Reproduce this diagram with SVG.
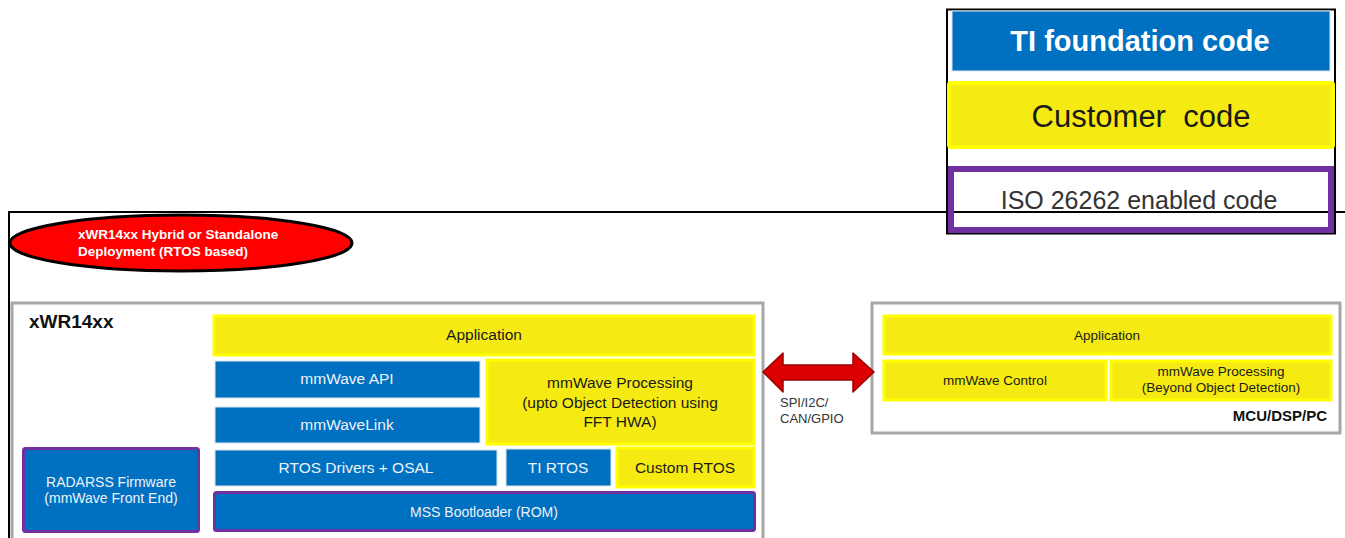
<svg xmlns="http://www.w3.org/2000/svg" width="1345" height="538" viewBox="0 0 1345 538">
<style>
text{font-family:"Liberation Sans",Arial,sans-serif;text-anchor:middle}
.blue{fill:#0070C0;stroke:#DCE6F2;stroke-width:1}
.yel{fill:#F6EA13;stroke:#FFFF00;stroke-width:3}
.pur{stroke:#7030A0;stroke-width:3}
.gray{fill:#FFFFFF;stroke:#A6A6A6;stroke-width:3}
.wt{fill:#EEF3FA;font-size:15.5px}
.bt{fill:#1A1A1A;font-size:15.5px}
.sm{font-size:13.5px}
</style>
<rect width="1345" height="538" fill="#FFFFFF"/>
<g id="legend">
<rect x="947" y="9.5" width="388" height="224" fill="none" stroke="#000" stroke-width="2"/>
<rect x="952" y="11" width="378" height="60" fill="#0070C0" stroke="#DCE6F2" stroke-width="1"/>
<text x="1140" y="51" style="font-size:29px;font-weight:bold;fill:#FFFFFF">TI foundation code</text>
<rect x="949" y="83" width="384" height="64" rx="2" fill="#F6EA13" stroke="#FFFF00" stroke-width="4"/>
<text x="1141" y="127" style="font-size:31px;fill:#1A1A1A;white-space:pre" xml:space="preserve">Customer  code</text>
<text x="1139" y="209" style="font-size:25px;fill:#333">ISO 26262 enabled code</text>
</g>
<g id="frame">
<path d="M9,538 V212 H1345" fill="none" stroke="#000" stroke-width="2"/>
</g>
<g id="legend-iso">
<rect x="951" y="169" width="380" height="61" fill="none" stroke="#7030A0" stroke-width="6"/>
</g>
<g id="deployment">
<ellipse cx="181" cy="243" rx="171" ry="28" fill="#FF0000" stroke="#000" stroke-width="3"/>
<text x="78" y="239" style="text-anchor:start;font-size:13.5px;font-weight:bold;fill:#FFFFFF">xWR14xx Hybrid or Standalone</text>
<text x="78" y="256" style="text-anchor:start;font-size:13.5px;font-weight:bold;fill:#FFFFFF">Deployment (RTOS based)</text>
</g>
<g id="xwr14xx">
<rect x="12" y="303" width="751" height="250" class="gray"/>
<text x="29" y="328" style="text-anchor:start;font-size:19px;font-weight:bold;fill:#111">xWR14xx</text>
</g>
<g id="app1"><rect x="214" y="316" width="540" height="39" class="yel"/><text x="484" y="340" class="bt">Application</text></g>
<g id="mmwave-api"><rect x="215" y="361" width="265" height="37" class="blue"/><text x="347" y="384" class="wt">mmWave API</text></g>
<g id="mmwavelink"><rect x="215" y="407" width="265" height="36" class="blue"/><text x="347" y="430" class="wt">mmWaveLink</text></g>
<g id="mmwave-proc"><rect x="487" y="360" width="267" height="84" class="yel"/><text x="620" y="388" class="bt">mmWave Processing</text><text x="620" y="408" class="bt">(upto Object Detection using</text><text x="620" y="427" class="bt">FFT HWA)</text></g>
<g id="rtos-drivers"><rect x="215" y="450" width="282" height="36" class="blue"/><text x="356" y="473" class="wt">RTOS Drivers + OSAL</text></g>
<g id="ti-rtos"><rect x="506" y="449" width="105" height="37" class="blue"/><text x="558" y="473" class="wt">TI RTOS</text></g>
<g id="custom-rtos"><rect x="617" y="448" width="137" height="39" class="yel"/><text x="685" y="473" class="bt">Custom RTOS</text></g>
<g id="mss-bootloader"><rect x="214.5" y="492.5" width="540" height="38" rx="2" fill="#0070C0" class="pur"/><text x="484" y="517" class="wt" style="font-size:14px">MSS Bootloader (ROM)</text></g>
<g id="radarss"><rect x="23.5" y="448.5" width="175" height="83" rx="2" fill="#0070C0" class="pur"/><text x="111" y="487" class="wt" style="font-size:14px">RADARSS Firmware</text><text x="111" y="503" class="wt" style="font-size:14px">(mmWave Front End)</text></g>
<g id="mcu">
<rect x="872" y="303" width="468" height="130" class="gray"/>
<text x="1327" y="421" style="text-anchor:end;font-size:15px;font-weight:bold;fill:#111">MCU/DSP/PC</text>
</g>
<g id="app2"><rect x="884" y="316" width="447" height="38" class="yel"/><text x="1107" y="340" class="bt sm">Application</text></g>
<g id="mmwave-control"><rect x="884" y="361" width="222" height="39" class="yel"/><text x="995" y="385" class="bt sm">mmWave Control</text></g>
<g id="mmwave-proc2"><rect x="1111" y="361" width="220" height="39" class="yel"/><text x="1221" y="376" class="bt sm">mmWave Processing</text><text x="1221" y="392" class="bt sm">(Beyond Object Detection)</text></g>
<g id="connectors">
<polygon points="763,372 783,353 783,365 853,365 853,353 874,372 853,392 853,380 783,380 783,392" fill="#DD0000" stroke="#990000" stroke-width="1.5" stroke-linejoin="round"/>
<text x="780" y="407" style="text-anchor:start;font-size:13px;fill:#333">SPI/I2C/</text>
<text x="780" y="423" style="text-anchor:start;font-size:13px;fill:#333">CAN/GPIO</text>
</g>
</svg>
